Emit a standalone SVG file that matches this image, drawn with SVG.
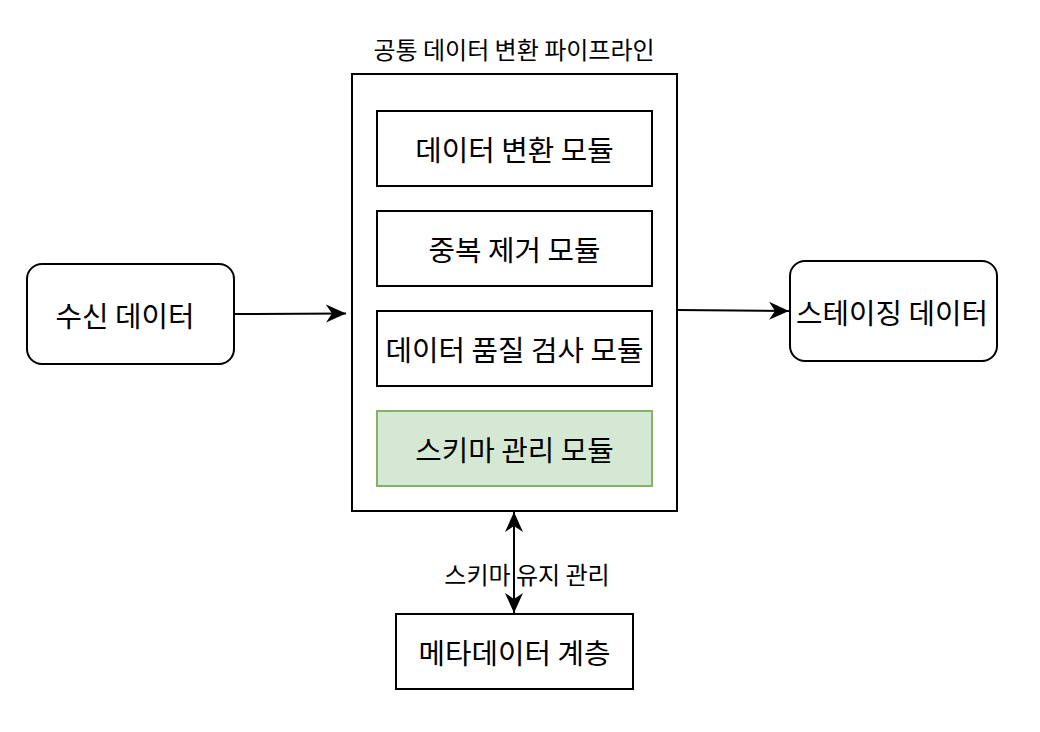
<svg xmlns="http://www.w3.org/2000/svg" width="1040" height="732" viewBox="0 0 1040 732">
<defs>
<style>
.n{fill:#fff;stroke:#000;stroke-width:2}
.g{fill:#d5e8d4;stroke:#82b366;stroke-width:2}
.t{font-family:"Noto Sans CJK KR","Noto Sans",sans-serif;font-size:28.8px;fill:#000;text-anchor:middle;dominant-baseline:central}
.s{font-size:24px}
.e{stroke:#000;stroke-width:2;fill:none}
</style>
<marker id="a" viewBox="0 0 21 20" refX="20" refY="10" markerWidth="21" markerHeight="20" markerUnits="userSpaceOnUse" orient="auto-start-reverse">
<path d="M0,1 L20,10 L0,19 L6,10 Z" fill="#000"/>
</marker>
</defs>
<rect width="1040" height="732" fill="#fff"/>
<g id="pipeline">
<rect class="n" x="352" y="74" width="325" height="437"/>
<text class="t s" x="514" y="48">공통 데이터 변환 파이프라인</text>
</g>
<g id="transform">
<rect class="n" x="377" y="111" width="275" height="75"/>
<text class="t" x="514.5" y="148.5">데이터 변환 모듈</text>
</g>
<g id="dedup">
<rect class="n" x="377" y="211" width="275" height="75"/>
<text class="t" x="514.5" y="248.5">중복 제거 모듈</text>
</g>
<g id="quality">
<rect class="n" x="377" y="311" width="275" height="75"/>
<text class="t" x="514.5" y="348.5">데이터 품질 검사 모듈</text>
</g>
<g id="schema">
<rect class="g" x="377" y="411" width="275" height="75"/>
<text class="t" x="514.5" y="448.5">스키마 관리 모듈</text>
</g>
<g id="input">
<rect class="n" x="27" y="264" width="207" height="100" rx="15"/>
<text class="t" x="125" y="314">수신 데이터</text>
</g>
<g id="staging">
<rect class="n" x="790" y="261" width="207" height="100" rx="15"/>
<text class="t" x="892" y="311">스테이징 데이터</text>
</g>
<g id="metadata">
<rect class="n" x="396" y="614" width="237" height="75"/>
<text class="t" x="514.5" y="651.5">메타데이터 계층</text>
</g>
<g id="edges">
<path class="e" d="M234,314 L346,313.5" marker-end="url(#a)"/>
<path class="e" d="M677,310 L789,311" marker-end="url(#a)"/>
<path class="e" d="M514,512 L514,613" marker-start="url(#a)" marker-end="url(#a)"/>
<text class="t s" x="527" y="573">스키마 유지 관리</text>
</g>
</svg>
